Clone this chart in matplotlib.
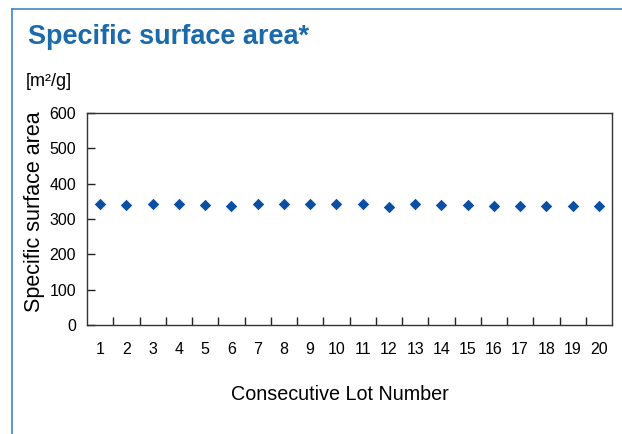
import matplotlib
matplotlib.use("Agg")
import matplotlib.pyplot as plt
from matplotlib.lines import Line2D

plt.rcParams['font.family'] = ['Liberation Sans', 'DejaVu Sans']

lots = list(range(1, 21))
lot_labels = [str(i) for i in lots]
surface_area = [343, 340, 343, 342, 340, 337, 342, 342, 342, 342,
                342, 335, 343, 339, 339, 338, 338, 337, 338, 337]
y_ticks = [0, 100, 200, 300, 400, 500, 600]

W, H = 622, 434
fig = plt.figure(figsize=(W / 100, H / 100), dpi=100)

# axes: left 87, right 612, top 113, bottom 325 (pixels)
ax = fig.add_axes([87 / W, 1 - 325 / H, (612 - 87) / W, (325 - 113) / H])

ax.scatter(lots, surface_area, marker='D', s=34, color='#0a4fa3', zorder=3, linewidths=0)

ax.set_xlim(0.5, 20.5)
ax.set_ylim(0, 600)
ax.set_yticks(y_ticks)
ax.set_xticks(lots)
ax.set_xticklabels(lot_labels)
ax.set_xticks([i + 0.5 for i in lots[:-1]], minor=True)

ax.tick_params(axis='x', which='major', length=0, pad=12, labelsize=11.5)
ax.tick_params(axis='x', which='minor', direction='in', length=6, width=1, color='#222222')
ax.tick_params(axis='y', which='major', direction='in', length=6, width=1, pad=8,
               labelsize=11.5, color='#222222')

for s in ax.spines.values():
    s.set_color('#333333')
    s.set_linewidth(1)

ax.set_ylabel('Specific surface area', fontsize=15.5, va='center')
ax.yaxis.set_label_coords(-0.1, 0.535)
ax.set_xlabel('Consecutive Lot Number', fontsize=14.2, va='center')
ax.xaxis.set_label_coords(0.482, -0.33)

fig.text(28 / W, 1 - 37 / H, 'Specific surface area*', fontsize=19.5, fontweight='bold',
         color='#1a6aac', va='center', ha='left')
fig.text(26 / W, 1 - 82 / H, '[m²/g]', fontsize=13, va='center', ha='left')

# blue frame lines
fig.add_artist(Line2D([12 / W, 12 / W], [0, 1 - 9 / H], color='#3d86c6', lw=1.2,
                      transform=fig.transFigure))
fig.add_artist(Line2D([12 / W, 1], [1 - 9 / H, 1 - 9 / H], color='#3d86c6', lw=1.2,
                      transform=fig.transFigure))

fig.savefig('out.png', dpi=100)
